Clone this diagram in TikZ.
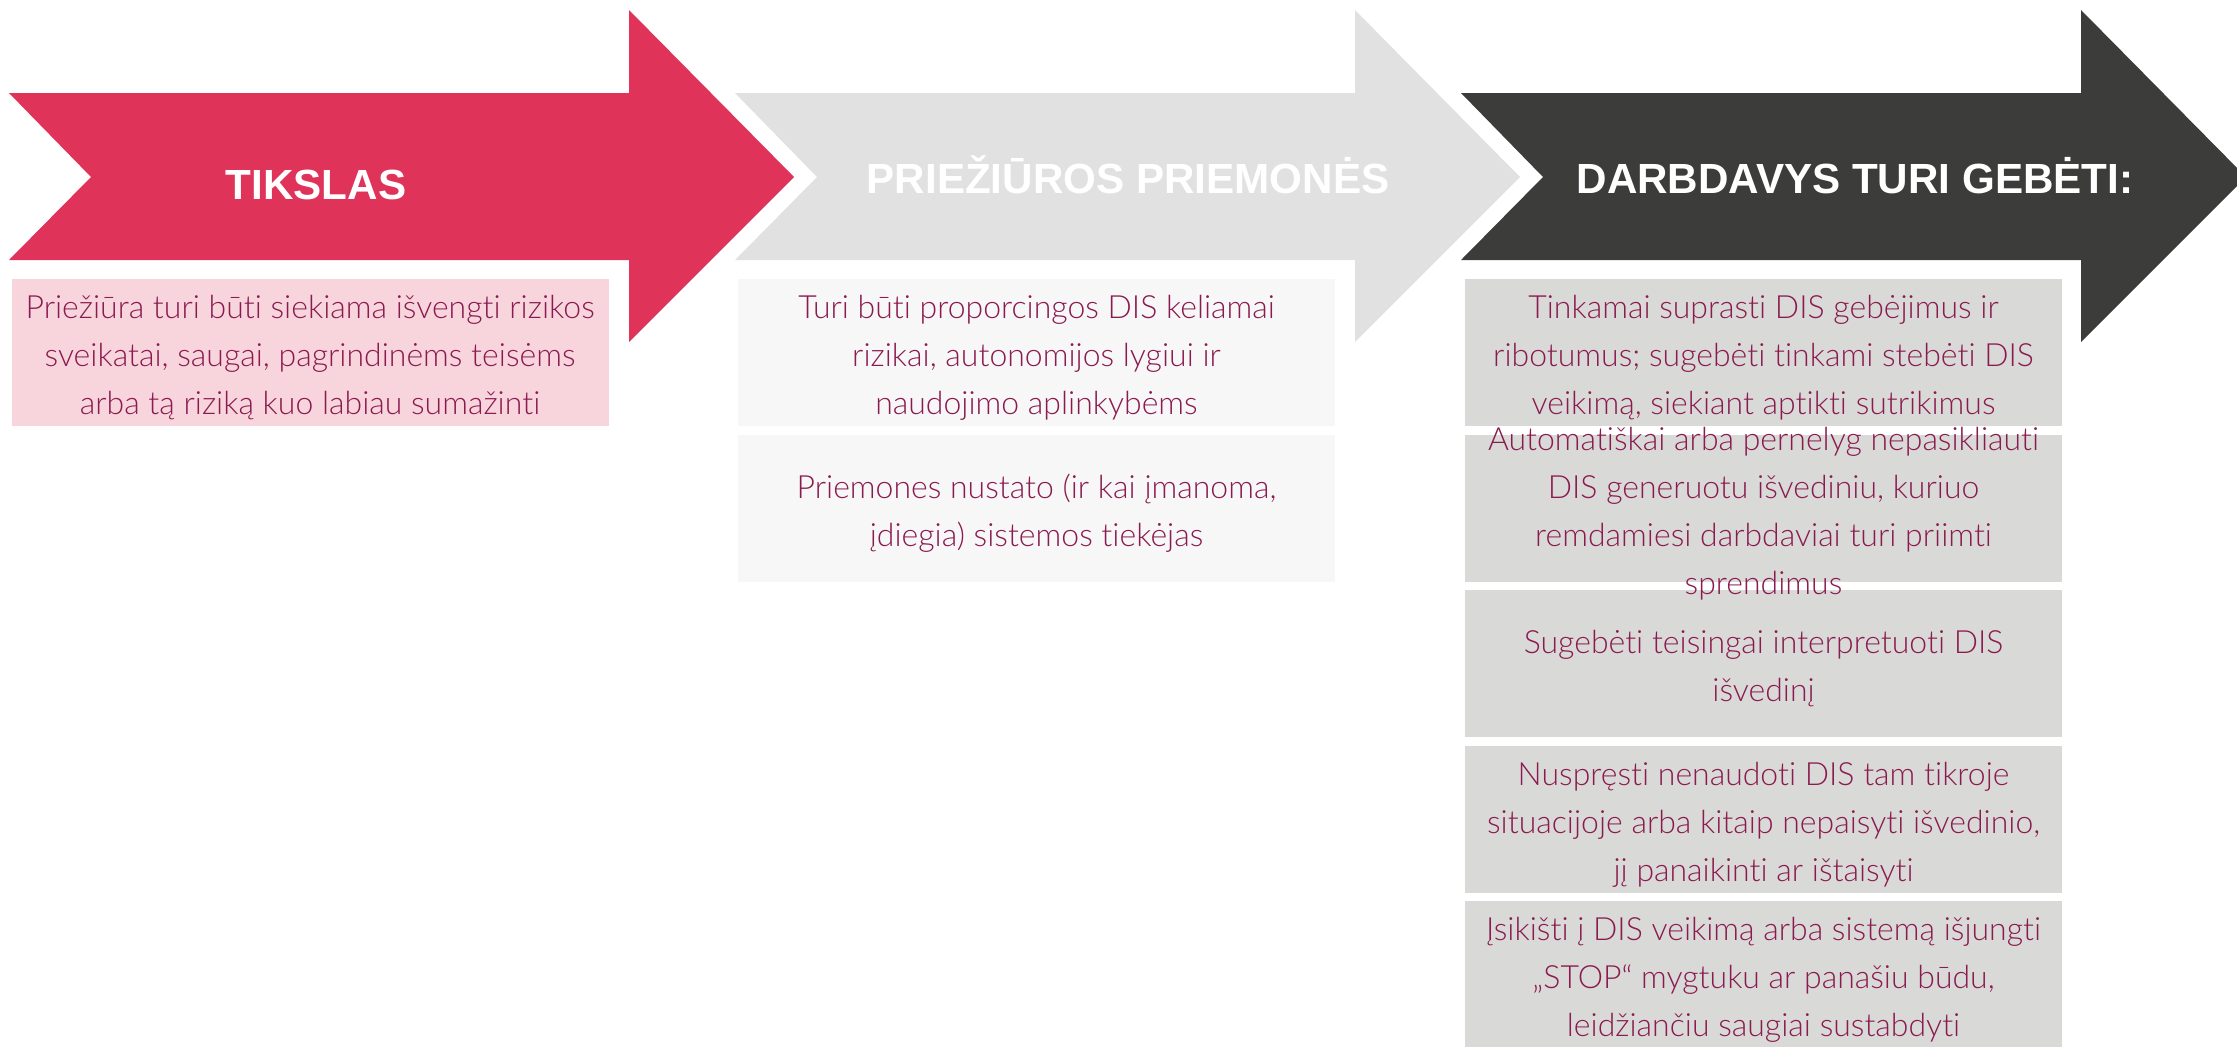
\documentclass[tikz,border=0pt]{standalone}
\usepackage{fontspec}
\usepackage{tikz}
\setmainfont{Lato Light}[Ligatures={NoCommon}]
\newfontfamily\headfont{Liberation Sans}
\definecolor{mred}{HTML}{E0335A}
\definecolor{mpink}{HTML}{F8D5DD}
\definecolor{mlight}{HTML}{E1E1E1}
\definecolor{mpale}{HTML}{F7F7F7}
\definecolor{mdark}{HTML}{3C3C3B}
\definecolor{mgray}{HTML}{D9D9D7}
\definecolor{mwine}{HTML}{8A1A4F}

\begin{document}
\begin{tikzpicture}[x=0.1mm, y=-0.1mm,
    heading/.style={font=\headfont\bfseries\fontsize{12}{14}\selectfont, text=white, anchor=base, inner sep=0},
    notebox/.style={minimum width=59.7mm, minimum height=14.7mm, inner sep=0},
    note/.style={font=\fontsize{9.1}{13.66}\selectfont, text=mwine, align=center, inner sep=0}]
    \useasboundingbox (0, 0) rectangle (2237, 1046);

    \fill [mred] (9, 93) -- ++(620, 0) -- ++(0, -83) -- ++(165, 167) -- ++(-165, 165) -- ++(0, -82) -- ++(-620, 0) -- ++(82, -83) -- cycle;
    \fill [mlight] (735, 93) -- ++(620, 0) -- ++(0, -83) -- ++(165, 167) -- ++(-165, 165) -- ++(0, -82) -- ++(-620, 0) -- ++(82, -83) -- cycle;
    \fill [mdark] (1461, 93) -- ++(620, 0) -- ++(0, -83) -- ++(165, 167) -- ++(-165, 165) -- ++(0, -82) -- ++(-620, 0) -- ++(82, -83) -- cycle;

    \node [heading] (goal) at (316, 199) {TIKSLAS};
    \node [heading] (means) at (1128, 193) {PRIEŽIŪROS PRIEMONĖS};
    \node [heading] (employer) at (1855, 193) {DARBDAVYS TURI GEBĖTI:};

    \node [notebox, fill=mpink] (goalbox) at (310, 352.5) {};
    \node [note] (goaltext) at (310, 357.5) {Priežiūra turi būti siekiama išvengti rizikos\\ sveikatai, saugai, pagrindinėms teisėms\\ arba tą riziką kuo labiau sumažinti};

    \node [notebox, fill=mpale] (meansbox1) at (1036.5, 352.5) {};
    \node [note] (meanstext1) at (1036.5, 357.5) {Turi būti proporcingos DIS keliamai\\ rizikai, autonomijos lygiui ir\\ naudojimo aplinkybėms};
    \node [notebox, fill=mpale] (meansbox2) at (1036.5, 508.5) {};
    \node [note] (meanstext2) at (1036.5, 513.5) {Priemones nustato (ir kai įmanoma,\\ įdiegia) sistemos tiekėjas};

    \node [notebox, fill=mgray] (skillbox1) at (1763.5, 352.5) {};
    \node [note] (skilltext1) at (1763.5, 357.5) {Tinkamai suprasti DIS gebėjimus ir\\ ribotumus; sugebėti tinkami stebėti DIS\\ veikimą, siekiant aptikti sutrikimus};
    \node [notebox, fill=mgray] (skillbox2) at (1763.5, 508.5) {};
    \node [notebox, fill=mgray] (skillbox3) at (1763.5, 663.5) {};
    \node [note] (skilltext2) at (1763.5, 513.5) {Automatiškai arba pernelyg nepasikliauti\\ DIS generuotu išvediniu, kuriuo\\ remdamiesi darbdaviai turi priimti\\ sprendimus};
    \node [note] (skilltext3) at (1763.5, 668.5) {Sugebėti teisingai interpretuoti DIS\\ išvedinį};
    \node [notebox, fill=mgray] (skillbox4) at (1763.5, 819.5) {};
    \node [note] (skilltext4) at (1763.5, 824.5) {Nuspręsti nenaudoti DIS tam tikroje\\ situacijoje arba kitaip nepaisyti išvedinio,\\ jį panaikinti ar ištaisyti};
    \node [notebox, fill=mgray] (skillbox5) at (1763.5, 974.5) {};
    \node [note] (skilltext5) at (1763.5, 979.5) {Įsikišti į DIS veikimą arba sistemą išjungti\\ „STOP“ mygtuku ar panašiu būdu,\\ leidžiančiu saugiai sustabdyti};
  \end{tikzpicture}
\end{document}
